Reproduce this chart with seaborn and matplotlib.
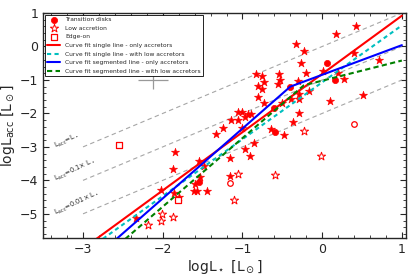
import numpy as np
import pandas as pd
import seaborn as sns
import matplotlib.pyplot as plt
from matplotlib.ticker import MultipleLocator

# --- data ---
# accretors (filled stars)
acc_x = [0.425, 0.175, -0.325, -0.225, 0.4, -0.26, 0.71, -0.2, -0.83, -0.75, -0.54, -0.73,
         -0.53, -0.8, -0.75, -0.55, -0.3, 0.01, 0.2, 0.28, -0.16, -0.29, -0.29, -0.39, -0.8,
         -0.73, 0.1, 0.51, -0.5, -1.06, -1.01, -0.93, -0.89, -0.97, -1.14, -1.05, -0.29,
         -0.37, -1.24, -1.33, -0.64, -0.48, -1.01, -1.16, -0.97, -0.9, -0.86, -1.16, -1.85,
         -1.87, -1.54, -1.48, -2.02, -1.86, -1.61, -1.57, -1.53, -1.45, -1.6, -2.33, -1.8]
acc_y = [0.6, 0.36, 0.07, -0.13, -0.19, -0.49, -0.39, -0.79, -0.82, -0.87, -0.83, -1.07,
         -1.0, -1.18, -1.28, -1.13, -1.04, -0.73, -0.79, -0.96, -1.34, -1.43, -1.58, -1.58, -1.52,
         -1.7, -1.64, -1.46, -1.7, -1.97, -1.97, -2.03, -2.03, -2.12, -2.21, -2.21, -2.0,
         -2.27, -2.45, -2.6, -2.48, -2.63, -2.45, -3.34, -3.07, -3.28, -2.87, -3.88, -3.16,
         -3.67, -3.43, -3.58, -4.3, -4.39, -4.33, -4.33, -3.91, -4.33, -4.1, -5.13, -4.5]

# transition disks
td_x = [0.06, 0.16, -0.4, -0.59, -0.6, -1.55]
td_y = [-0.49, -1.0, -1.2, -2.54, -1.85, -4.05]
td_low_x = [0.4, -1.16]
td_low_y = [-2.31, -4.09]

# low accretors (open stars)
low_x = [-0.23, -0.01, -1.05, -0.59, -1.11, -2.18, -2.01, -2.02, -1.87]
low_y = [-2.51, -3.28, -3.82, -3.85, -4.6, -5.34, -5.0, -5.22, -5.1]

# edge-on
edge_x = [-2.55, -1.81]
edge_y = [-2.93, -4.6]

# fitted lines (nodes)
single_acc_x = [-3.5, 1.0]
single_acc_y = [-6.91, 0.92]
single_low_x = [-3.5, 1.0]
single_low_y = [-7.02, 0.63]
seg_acc_x = [-3.5, -0.4, 1.0]
seg_acc_y = [-7.67, -1.2, 0.04]
seg_low_x = [-3.5, -0.23, 1.0]
seg_low_y = [-7.86, -1.16, -0.42]

# L_acc / L_star reference lines
ratio_labels = [r'L$_{\rm acc}$=L$_\star$', r'L$_{\rm acc}$=0.1$\times$ L$_\star$',
                r'L$_{\rm acc}$=0.01$\times$ L$_\star$']
ratio_offsets = [0, -1, -2]

sns.set_style("ticks")
plt.rcParams['font.family'] = ['DejaVu Sans']
plt.rcParams['mathtext.fontset'] = 'dejavusans'

fig = plt.figure(figsize=(4.15, 2.77), dpi=100)
ax = fig.add_axes([0.104, 0.141, 0.874, 0.812])

# reference lines + labels
for off, lab in zip(ratio_offsets, ratio_labels):
    xs = np.array([-3.0, 1.0])
    ax.plot(xs, xs + off, ls='--', color='0.65', lw=0.8, dashes=(4, 3), zorder=1)
    ax.text(-3.33, -3.12 + off, lab, fontsize=4.8, rotation=25,
            ha='left', va='bottom', rotation_mode='anchor')

# representative error bar
ax.errorbar([-2.12], [-1.0], xerr=[0.19], yerr=[0.27], fmt='none', ecolor='0.6',
            elinewidth=0.9, zorder=1)

sns.scatterplot(x=acc_x, y=acc_y, marker='*', s=38, color='red', edgecolor='red',
                linewidth=0.4, ax=ax, zorder=3)
sns.scatterplot(x=td_x, y=td_y, marker='o', s=20, color='red', edgecolor='red',
                linewidth=0.5, ax=ax, zorder=3, label='Transition disks')
sns.scatterplot(x=low_x, y=low_y, marker='*', s=38, facecolor='white', edgecolor='red',
                linewidth=0.7, ax=ax, zorder=3, label='Low accretion')
sns.scatterplot(x=edge_x, y=edge_y, marker='s', s=22, facecolor='white', edgecolor='red',
                linewidth=0.9, ax=ax, zorder=3, label='Edge-on')
sns.scatterplot(x=td_low_x, y=td_low_y, marker='o', s=16, facecolor='white', edgecolor='red',
                linewidth=0.9, ax=ax, zorder=3)

sns.lineplot(x=single_acc_x, y=single_acc_y, color='red', lw=1.5, ax=ax, zorder=4,
             label='Curve fit single line - only accretors')
sns.lineplot(x=single_low_x, y=single_low_y, color=(0, 0.75, 0.75), lw=1.5,
             linestyle=(0, (2, 1.6)), ax=ax, zorder=4,
             label='Curve fit single line - with low accretors')
sns.lineplot(x=seg_acc_x, y=seg_acc_y, color='blue', lw=1.5, ax=ax, zorder=4,
             label='Curve fit segmented line - only accretors')
sns.lineplot(x=seg_low_x, y=seg_low_y, color=(0, 0.5, 0), lw=1.5,
             linestyle=(0, (2.5, 1.6)), ax=ax, zorder=4,
             label='Curve fit segmented line - with low accretors')

ax.set_xlim(-3.5, 1.05)
ax.set_ylim(-5.72, 1.0)
ax.xaxis.set_major_locator(MultipleLocator(1))
ax.xaxis.set_minor_locator(MultipleLocator(0.2))
ax.yaxis.set_major_locator(MultipleLocator(1))
ax.yaxis.set_minor_locator(MultipleLocator(0.2))
ax.tick_params(which='both', direction='in', top=True, right=True, labelsize=9)
ax.tick_params(which='major', length=4, width=0.8)
ax.tick_params(which='minor', length=2, width=0.6)
for s in ax.spines.values():
    s.set_linewidth(1.0)

ax.set_xlabel(r'logL$_\star$ [L$_\odot$]', fontsize=10, labelpad=2)
ax.set_ylabel(r'logL$_{\rm acc}$ [L$_\odot$]', fontsize=10, labelpad=2)

leg = ax.legend(loc='upper left', fontsize=4.3, scatterpoints=1, borderaxespad=0.25,
                handlelength=2.2, labelspacing=0.58, fancybox=False, framealpha=1,
                edgecolor='black')
leg.get_frame().set_linewidth(0.6)
leg.set_zorder(5)

fig.savefig('out.png', dpi=100)
